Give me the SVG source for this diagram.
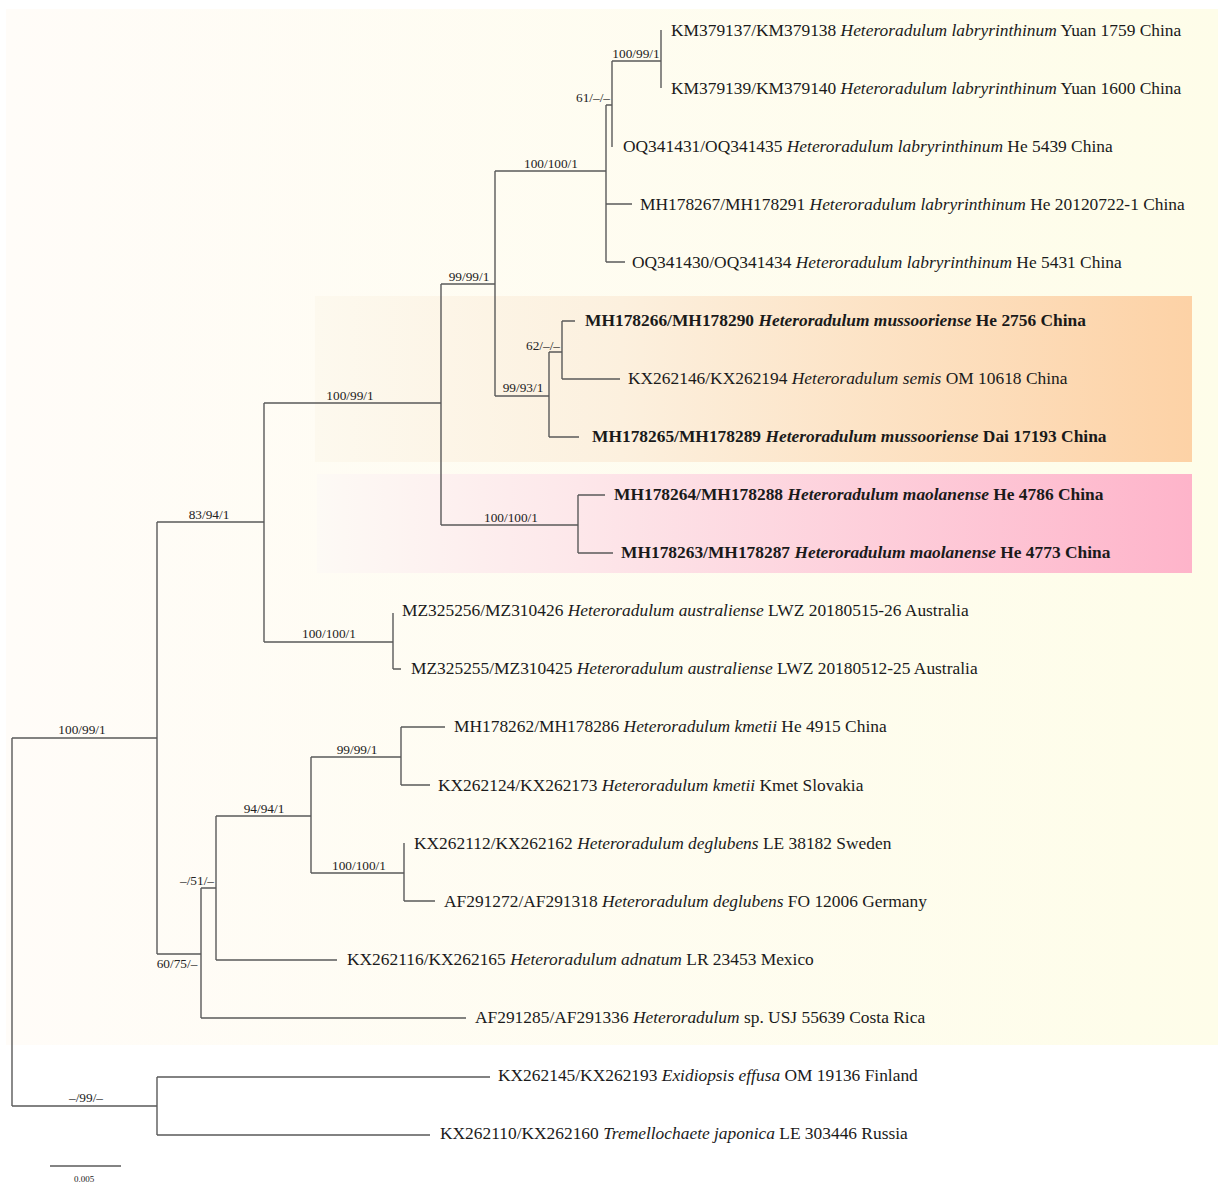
<svg xmlns="http://www.w3.org/2000/svg" width="1231" height="1193" viewBox="0 0 1231 1193">
<defs>
<linearGradient id="gBg" x1="0" y1="0" x2="1" y2="0">
<stop offset="0" stop-color="#fffcf8"/>
<stop offset="1" stop-color="#fefde9"/>
</linearGradient>
<linearGradient id="gOr" x1="0" y1="0" x2="1" y2="0">
<stop offset="0" stop-color="#fdf9ee"/>
<stop offset="0.35" stop-color="#fcf0de"/>
<stop offset="1" stop-color="#fdd2a6"/>
</linearGradient>
<linearGradient id="gPk" x1="0" y1="0" x2="1" y2="0">
<stop offset="0" stop-color="#fdfaf5"/>
<stop offset="0.3" stop-color="#fde7ea"/>
<stop offset="1" stop-color="#feb4ca"/>
</linearGradient>
<style>
.br{fill:none;stroke:#5a5a5a;stroke-width:1.4}
.tip{font-family:"Liberation Serif","Times New Roman",serif;font-size:17.4px;fill:#1a1a1a}
.b{font-weight:bold}
.sup{font-family:"Liberation Serif","Times New Roman",serif;font-size:13.3px;fill:#222;text-anchor:middle}
.supr{text-anchor:end}
</style>
</defs>
<rect width="1231" height="1193" fill="#ffffff"/>
<rect x="6" y="9" width="1212" height="1036" fill="url(#gBg)"/>
<rect x="315" y="296" width="877" height="166" fill="url(#gOr)"/>
<rect x="317" y="474" width="875" height="99" fill="url(#gPk)"/>

<g id="connectors">
<path class="br" d="M12,738 V1106 M12,738 H157 M12,1106 H157"/>
<path class="br" d="M157,522 V954 M157,522 H264 M157,954 H201"/>
<path class="br" d="M264,403 V642 M264,403 H441 M264,642 H393"/>
<path class="br" d="M441,284 V525 M441,284 H495 M441,525 H578"/>
<path class="br" d="M495,171 V396 M495,171 H606 M495,396 H549"/>
<path class="br" d="M606,105 V262 M606,105 H612 M606,204 H632 M606,262 H625"/>
<path class="br" d="M612,61 V147 M612,61 H661"/>
<path class="br" d="M661,30 V88"/>
<path class="br" d="M549,352 V437 M549,352 H562 M549,437 H579"/>
<path class="br" d="M562,321 V379 M562,321 H575 M562,379 H620"/>
<path class="br" d="M578,495 V553 M578,495 H605 M578,553 H613"/>
<path class="br" d="M393,613 V669 M393,669 H401"/>
<path class="br" d="M201,888 V1018 M201,888 H216 M201,1018 H466"/>
<path class="br" d="M216,816 V960 M216,816 H311 M216,960 H337"/>
<path class="br" d="M311,757 V873 M311,757 H401 M311,873 H404"/>
<path class="br" d="M401,727 V785 M401,727 H445 M401,785 H430"/>
<path class="br" d="M404,843 V901 M404,901 H435"/>
<path class="br" d="M157,1077 V1135 M157,1077 H490 M157,1135 H430"/>
<path class="br" d="M50,1166 H121"/>
</g>

<g id="support-labels">
<text class="sup" x="82" y="734">100/99/1</text>
<text class="sup" x="209" y="519">83/94/1</text>
<text class="sup" x="350" y="400">100/99/1</text>
<text class="sup" x="469" y="281">99/99/1</text>
<text class="sup" x="551" y="168">100/100/1</text>
<text class="sup supr" x="610" y="102">61/–/–</text>
<text class="sup" x="636" y="58">100/99/1</text>
<text class="sup supr" x="560" y="350">62/–/–</text>
<text class="sup" x="523" y="392">99/93/1</text>
<text class="sup" x="511" y="522">100/100/1</text>
<text class="sup" x="329" y="638">100/100/1</text>
<text class="sup" x="357" y="754">99/99/1</text>
<text class="sup" x="264" y="813">94/94/1</text>
<text class="sup" x="359" y="870">100/100/1</text>
<text class="sup supr" x="214" y="885">–/51/–</text>
<text class="sup" x="177" y="968">60/75/–</text>
<text class="sup" x="86" y="1102">–/99/–</text>
<text class="sup" x="84" y="1182" style="font-size:9px">0.005</text>
</g>

<g id="tip-1"><text class="tip" x="671" y="36">KM379137/KM379138 <tspan font-style="italic">Heteroradulum labryrinthinum</tspan> Yuan 1759 China</text></g>
<g id="tip-2"><text class="tip" x="671" y="94">KM379139/KM379140 <tspan font-style="italic">Heteroradulum labryrinthinum</tspan> Yuan 1600 China</text></g>
<g id="tip-3"><text class="tip" x="623" y="152">OQ341431/OQ341435 <tspan font-style="italic">Heteroradulum labryrinthinum</tspan> He 5439 China</text></g>
<g id="tip-4"><text class="tip" x="640" y="210">MH178267/MH178291 <tspan font-style="italic">Heteroradulum labryrinthinum</tspan> He 20120722-1 China</text></g>
<g id="tip-5"><text class="tip" x="632" y="268">OQ341430/OQ341434 <tspan font-style="italic">Heteroradulum labryrinthinum</tspan> He 5431 China</text></g>
<g id="tip-6"><text class="tip b" x="585" y="326">MH178266/MH178290 <tspan font-style="italic">Heteroradulum mussooriense</tspan> He 2756 China</text></g>
<g id="tip-7"><text class="tip" x="628" y="384">KX262146/KX262194 <tspan font-style="italic">Heteroradulum semis</tspan> OM 10618 China</text></g>
<g id="tip-8"><text class="tip b" x="592" y="442">MH178265/MH178289 <tspan font-style="italic">Heteroradulum mussooriense</tspan> Dai 17193 China</text></g>
<g id="tip-9"><text class="tip b" x="614" y="500">MH178264/MH178288 <tspan font-style="italic">Heteroradulum maolanense</tspan> He 4786 China</text></g>
<g id="tip-10"><text class="tip b" x="621" y="558">MH178263/MH178287 <tspan font-style="italic">Heteroradulum maolanense</tspan> He 4773 China</text></g>
<g id="tip-11"><text class="tip" x="402" y="616">MZ325256/MZ310426 <tspan font-style="italic">Heteroradulum australiense</tspan> LWZ 20180515-26 Australia</text></g>
<g id="tip-12"><text class="tip" x="411" y="674">MZ325255/MZ310425 <tspan font-style="italic">Heteroradulum australiense</tspan> LWZ 20180512-25 Australia</text></g>
<g id="tip-13"><text class="tip" x="454" y="732">MH178262/MH178286 <tspan font-style="italic">Heteroradulum kmetii</tspan> He 4915 China</text></g>
<g id="tip-14"><text class="tip" x="438" y="791">KX262124/KX262173 <tspan font-style="italic">Heteroradulum kmetii</tspan> Kmet Slovakia</text></g>
<g id="tip-15"><text class="tip" x="414" y="849">KX262112/KX262162 <tspan font-style="italic">Heteroradulum deglubens</tspan> LE 38182 Sweden</text></g>
<g id="tip-16"><text class="tip" x="444" y="907">AF291272/AF291318 <tspan font-style="italic">Heteroradulum deglubens</tspan> FO 12006 Germany</text></g>
<g id="tip-17"><text class="tip" x="347" y="965">KX262116/KX262165 <tspan font-style="italic">Heteroradulum adnatum</tspan> LR 23453 Mexico</text></g>
<g id="tip-18"><text class="tip" x="475" y="1023">AF291285/AF291336 <tspan font-style="italic">Heteroradulum</tspan> sp. USJ 55639 Costa Rica</text></g>
<g id="tip-19"><text class="tip" x="498" y="1081">KX262145/KX262193 <tspan font-style="italic">Exidiopsis effusa</tspan> OM 19136 Finland</text></g>
<g id="tip-20"><text class="tip" x="440" y="1139">KX262110/KX262160 <tspan font-style="italic">Tremellochaete japonica</tspan> LE 303446 Russia</text></g>
</svg>
